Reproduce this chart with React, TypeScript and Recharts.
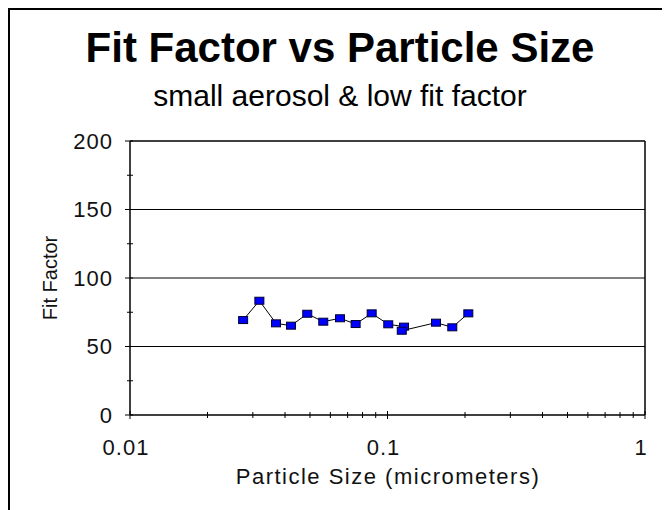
import React from "react";
import { LineChart, Line, XAxis, YAxis, ReferenceLine } from "recharts";

const particleSize = [0.0275, 0.0318, 0.0369, 0.0422, 0.0488, 0.0563, 0.0654, 0.0752, 0.0868, 0.1007, 0.1159, 0.1136, 0.1543, 0.1785, 0.206];
const fitFactor = [69.3, 83.4, 66.9, 65.2, 73.9, 68.1, 70.6, 66.4, 74.2, 66.2, 64.5, 61.5, 67.4, 64.0, 74.2];

const xTicks = [0.01, 0.02, 0.03, 0.04, 0.05, 0.06, 0.07, 0.08, 0.09, 0.1, 0.2, 0.3, 0.4, 0.5, 0.6, 0.7, 0.8, 0.9, 1];
const xMajor = [0.01, 0.1, 1];
const xMajorLabels = ["0.01", "0.1", "1"];
const yTicks = [0, 25, 50, 75, 100, 125, 150, 175, 200];
const yMajor = [0, 50, 100, 150, 200];
const gridValues = [50, 100, 150, 200];

const data = particleSize.map((x, i) => ({ x, y: fitFactor[i] }));

const FONT = "'Liberation Sans', Arial, sans-serif";

const XTick = (props: any) => {
  const { x, y, payload } = props;
  const idx = xMajor.findIndex((v) => Math.abs(v - payload.value) < 1e-9);
  const major = idx >= 0;
  return (
    <g>
      <line x1={x} x2={x} y1={y - (major ? 4 : 3)} y2={y + (major ? 4 : 3)} stroke="#000" strokeWidth={1} />
      {major && (
        <text x={x - 4} y={y + 40} textAnchor="middle" fontSize={22} letterSpacing={1} fontFamily={FONT} fill="#111">
          {xMajorLabels[idx]}
        </text>
      )}
    </g>
  );
};

const YTick = (props: any) => {
  const { x, y, payload } = props;
  const major = yMajor.includes(payload.value);
  return (
    <g>
      <line x1={x - (major ? 5 : 3)} x2={x + 3} y1={y} y2={y} stroke="#000" strokeWidth={1} />
      {major && (
        <text x={x - 17} y={y} dy="0.36em" textAnchor="end" fontSize={22} letterSpacing={1} fontFamily={FONT} fill="#111">
          {payload.value}
        </text>
      )}
    </g>
  );
};

const Marker = (props: any) => {
  const { cx, cy } = props;
  if (cx == null || cy == null) return null;
  return <rect x={cx - 4.5} y={cy - 3.5} width={9} height={7} fill="#0000ff" stroke="#000033" strokeWidth={1} />;
};

export default function App() {
  return (
    <div
      style={{
        width: 662,
        height: 502,
        borderTop: "2px solid #000",
        borderLeft: "2px solid #000",
        boxSizing: "border-box",
        position: "relative",
        background: "#fff",
        overflow: "hidden",
      }}
    >
      <LineChart width={660} height={500} data={data} margin={{ top: 131, right: 25, left: 60, bottom: 35 }}>
        <XAxis
          dataKey="x"
          type="number"
          scale="log"
          domain={[0.01, 1]}
          allowDataOverflow
          ticks={xTicks}
          interval={0}
          tickSize={0}
          tickMargin={0}
          tick={<XTick />}
          height={60}
          axisLine={{ stroke: "#000", strokeWidth: 1.5 }}
          tickLine={false}
        />
        <YAxis
          dataKey="y"
          type="number"
          domain={[0, 200]}
          ticks={yTicks}
          interval={0}
          tickSize={0}
          tickMargin={0}
          tick={<YTick />}
          width={60}
          axisLine={{ stroke: "#000", strokeWidth: 1.5 }}
          tickLine={false}
        />
        {gridValues.map((v) => (
          <ReferenceLine key={v} y={v} stroke="#000" strokeWidth={v === 200 ? 1.5 : 1} />
        ))}
        <ReferenceLine x={1} stroke="#000" strokeWidth={1.5} />
        <Line
          dataKey="y"
          stroke="#000"
          strokeWidth={1}
          isAnimationActive={false}
          dot={<Marker />}
          activeDot={false}
        />
      </LineChart>
      <svg width={660} height={500} style={{ position: "absolute", left: 0, top: 0, pointerEvents: "none" }}>
        <text x={330} y={52} textAnchor="middle" fontSize={42} fontWeight="bold" fontFamily={FONT} fill="#000">
          Fit Factor vs Particle Size
        </text>
        <text x={330} y={96} textAnchor="middle" fontSize={30} fontFamily={FONT} fill="#000">
          small aerosol &amp; low fit factor
        </text>
        <text x={378} y={474} textAnchor="middle" fontSize={22} letterSpacing={1.5} fontFamily={FONT} fill="#111">
          Particle Size (micrometers)
        </text>
        <text
          x={47}
          y={268}
          textAnchor="middle"
          fontSize={20}
          fontFamily={FONT}
          fill="#111"
          transform="rotate(-90 47 268)"
        >
          Fit Factor
        </text>
      </svg>
    </div>
  );
}
